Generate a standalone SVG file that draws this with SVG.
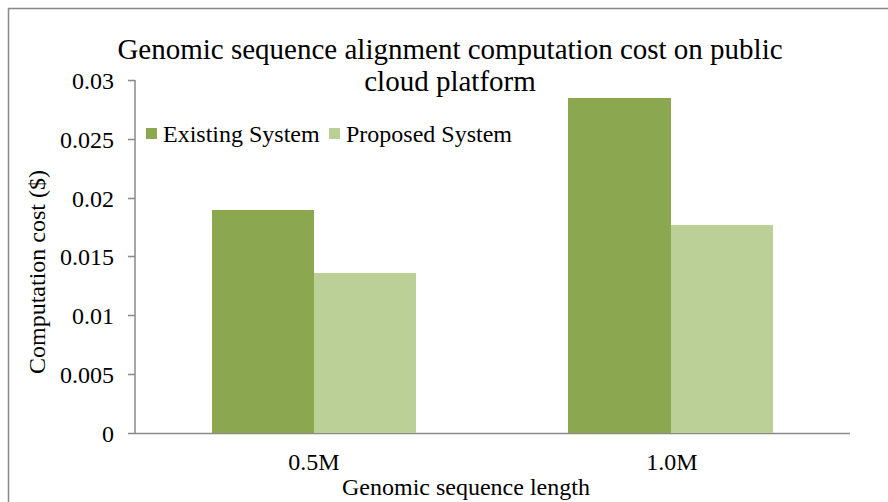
<svg xmlns="http://www.w3.org/2000/svg" width="888" height="502" viewBox="0 0 888 502">
<style>
text{font-family:"Liberation Serif","Times New Roman",serif;fill:#000}
.t{font-size:29px;text-anchor:middle}
.y{font-size:24px;text-anchor:end}
.l{font-size:24px}
.x{font-size:24px;text-anchor:middle}
.ax{stroke:#898989;stroke-width:1.5;fill:none}
.e{fill:#8BA74F}
.p{fill:#BBD097}
</style>
<rect x="0" y="0" width="888" height="502" fill="#fff"/>
<path d="M8.5 502V8.5H888" class="ax"/>
<g id="title">
<text class="t" x="450" y="59">Genomic sequence alignment computation cost on public</text>
<text class="t" x="450" y="91">cloud platform</text>
</g>
<g id="axes">
<path class="ax" d="M135 80V433.5H850M128 80.5H135M128 139.5H135M128 198.5H135M128 256.5H135M128 315.5H135M128 374.5H135M128 433.5H135"/>
<text class="y" x="114" y="89">0.03</text>
<text class="y" x="114" y="148">0.025</text>
<text class="y" x="114" y="207">0.02</text>
<text class="y" x="114" y="265">0.015</text>
<text class="y" x="114" y="324">0.01</text>
<text class="y" x="114" y="383">0.005</text>
<text class="y" x="114" y="442">0</text>
<text class="x" x="314" y="470">0.5M</text>
<text class="x" x="672" y="470">1.0M</text>
<text class="l" x="342" y="495">Genomic sequence length</text>
<text class="x" transform="translate(45 272) rotate(-90)">Computation cost ($)</text>
</g>
<g id="bars">
<rect class="e" x="212" y="210" width="102" height="223"/>
<rect class="p" x="314" y="273" width="102" height="160"/>
<rect class="e" x="568" y="98" width="103" height="335"/>
<rect class="p" x="671" y="225" width="102" height="208"/>
</g>
<g id="legend">
<rect class="e" x="146" y="128" width="11" height="11"/>
<text class="l" x="163" y="142">Existing System</text>
<rect class="p" x="329" y="128" width="11" height="11"/>
<text class="l" x="346" y="142">Proposed System</text>
</g>
</svg>
